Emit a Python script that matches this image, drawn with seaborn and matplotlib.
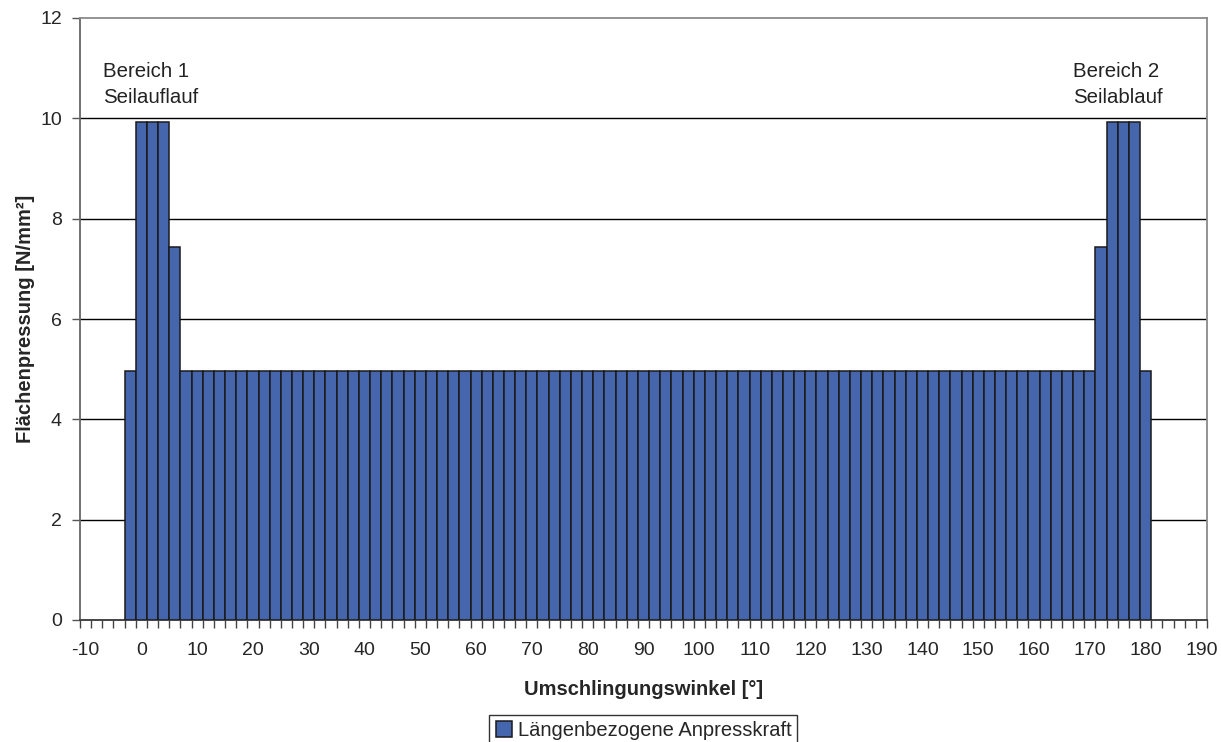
import numpy as np
import pandas as pd
import matplotlib
matplotlib.use("Agg")
import matplotlib.pyplot as plt
import seaborn as sns

# Category axis: wrap angle in 2° steps
angles_all = list(range(-10, 191, 2))

# Measured pressure per angle step (bars from -2° to 180°)
bar_angles = list(range(-2, 181, 2))
base_level = 4.96
edge_level = 7.44
peak_level = 9.92
pressure = (
    [base_level]
    + [peak_level, peak_level, peak_level]
    + [edge_level]
    + [base_level] * 82
    + [edge_level]
    + [peak_level, peak_level, peak_level]
    + [base_level]
)

series_name = "Längenbezogene Anpresskraft"
x_title = "Umschlingungswinkel [°]"
y_title = "Flächenpressung [N/mm²]"
left_note = "Bereich 1\nSeilauflauf"
right_note = "Bereich 2\nSeilablauf"

df = pd.DataFrame({"Winkel": [str(a) for a in bar_angles], "Druck": pressure})
order = [str(a) for a in angles_all]

sns.set_style("white")
plt.rcParams["font.family"] = ["Liberation Sans", "DejaVu Sans"]

fig = plt.figure(figsize=(12.21, 7.42), dpi=100)
ax = fig.add_axes([80 / 1221, 1 - 620 / 742, (1207 - 80) / 1221, (620 - 18) / 742])

bar_color = "#4565AD"
sns.barplot(data=df, x="Winkel", y="Druck", order=order, color=bar_color,
            width=1.0, edgecolor="#1a1a1a", linewidth=1.1, saturation=1,
            errorbar=None, ax=ax, label=series_name, zorder=3)

n = len(order)
ax.set_xlim(-0.5, n - 0.5)
ax.set_ylim(0, 12)

# Horizontal gridlines (the top edge is drawn by the frame instead)
ax.set_yticks(np.arange(0, 13, 2))
for yv in np.arange(2, 12, 2):
    ax.axhline(yv, color="black", linewidth=1.0, zorder=1)
ax.tick_params(axis="y", direction="out", length=6, width=1, color="#555555",
               labelsize=14, pad=7, left=True)

# Category labels every 10°, tick marks at category boundaries
label_pos = [i for i, a in enumerate(angles_all) if a % 10 == 0]
ax.set_xticks(label_pos)
ax.set_xticklabels([str(angles_all[i]) for i in label_pos])
ax.set_xticks(np.arange(-0.5, n, 1.0), minor=True)
ax.tick_params(axis="x", which="major", length=0, labelsize=14, pad=16)
ax.tick_params(axis="x", which="minor", direction="out", length=6, width=1,
               color="#444444", bottom=True)

for side in ["left", "right", "top"]:
    ax.spines[side].set_color("#8a8a8a")
    ax.spines[side].set_linewidth(1.3)
ax.spines["left"].set_color("#666666")
ax.spines["bottom"].set_color("#444444")
ax.spines["bottom"].set_linewidth(1.4)

ax.set_xlabel(x_title, fontsize=14.5, fontweight="bold", labelpad=15)
ax.set_ylabel(y_title, fontsize=14.5, fontweight="bold", labelpad=4)

ax.text(1.55, 10.22, left_note, fontsize=14.7, ha="left", va="bottom",
        color="#222222", linespacing=1.5)
ax.text(88.45, 10.22, right_note, fontsize=14.7, ha="left", va="bottom",
        color="#222222", linespacing=1.5)

handles, labels = ax.get_legend_handles_labels()
if ax.get_legend() is not None:
    ax.get_legend().remove()
leg = fig.legend(handles[:1], labels[:1], loc="upper center",
                 bbox_to_anchor=(0.527, 1 - 715 / 742), fontsize=14.5,
                 frameon=True, fancybox=False, edgecolor="black",
                 handlelength=0.8, handleheight=0.8, handletextpad=0.3,
                 borderpad=0.3, borderaxespad=0)
leg.get_frame().set_linewidth(1.0)

fig.savefig("out.png", dpi=100)
